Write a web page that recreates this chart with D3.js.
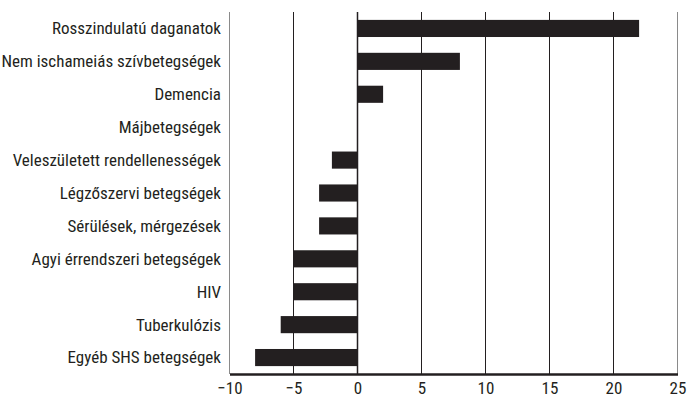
<!DOCTYPE html>
<html><head><meta charset="utf-8">
<script src="https://cdn.jsdelivr.net/npm/d3@7"></script>
<style>
html,body{margin:0;padding:0;background:#fff;}
text{font-family:"Liberation Sans Narrow","Roboto Condensed","Liberation Sans",sans-serif;fill:#231f20;}
</style></head>
<body><svg id="c" width="687" height="398"></svg>
<script>
const categories = ["Rosszindulatú daganatok","Nem ischameiás szívbetegségek","Demencia","Májbetegségek","Veleszületett rendellenességek","Légzőszervi betegségek","Sérülések, mérgezések","Agyi érrendszeri betegségek","HIV","Tuberkulózis","Egyéb SHS betegségek"];
const values = [22, 8, 2, 0, -2, -3, -3, -5, -5, -6, -8];
const tickValues = [-10, -5, 0, 5, 10, 15, 20, 25];

const svg = d3.select("#c");
const x = d3.scaleLinear().domain([-10, 25]).range([229.5, 677.5]);
const y = d3.scaleBand().domain(categories).range([12, 374]).paddingInner(0.48).paddingOuter(0.24);

// gridlines
svg.append("g").selectAll("line").data(tickValues).join("line")
  .attr("x1", d => x(d)).attr("x2", d => x(d))
  .attr("y1", 12).attr("y2", 374)
  .attr("stroke", d => (d === -10 || d === 25) ? "#8a8a8a" : "#231f20")
  .attr("stroke-width", d => d === 0 ? 1.5 : 1);

// bars
svg.append("g").selectAll("rect").data(values).join("rect")
  .attr("x", d => x(Math.min(0, d)))
  .attr("width", d => Math.abs(x(d) - x(0)))
  .attr("y", (d, i) => y(categories[i]))
  .attr("height", y.bandwidth())
  .attr("fill", "#231f20");

// x axis
const xAxis = d3.axisBottom(x).tickValues(tickValues).tickSize(0).tickPadding(8)
  .tickFormat(d => d < 0 ? "\u2212" + Math.abs(d) : d);
const gx = svg.append("g").attr("transform", "translate(0,374)").call(xAxis);
gx.attr("font-family", null).attr("font-size", null);
gx.select(".domain").attr("stroke", "#231f20").attr("stroke-width", 2.5);
gx.selectAll("text").attr("font-size", 17).attr("fill", "#231f20");

// category labels
svg.append("g").selectAll("text").data(categories).join("text")
  .attr("x", 221)
  .attr("y", d => y(d) + y.bandwidth() / 2)
  .attr("dy", "0.35em")
  .attr("text-anchor", "end")
  .attr("font-size", 17)
  .text(d => d);
</script></body></html>
